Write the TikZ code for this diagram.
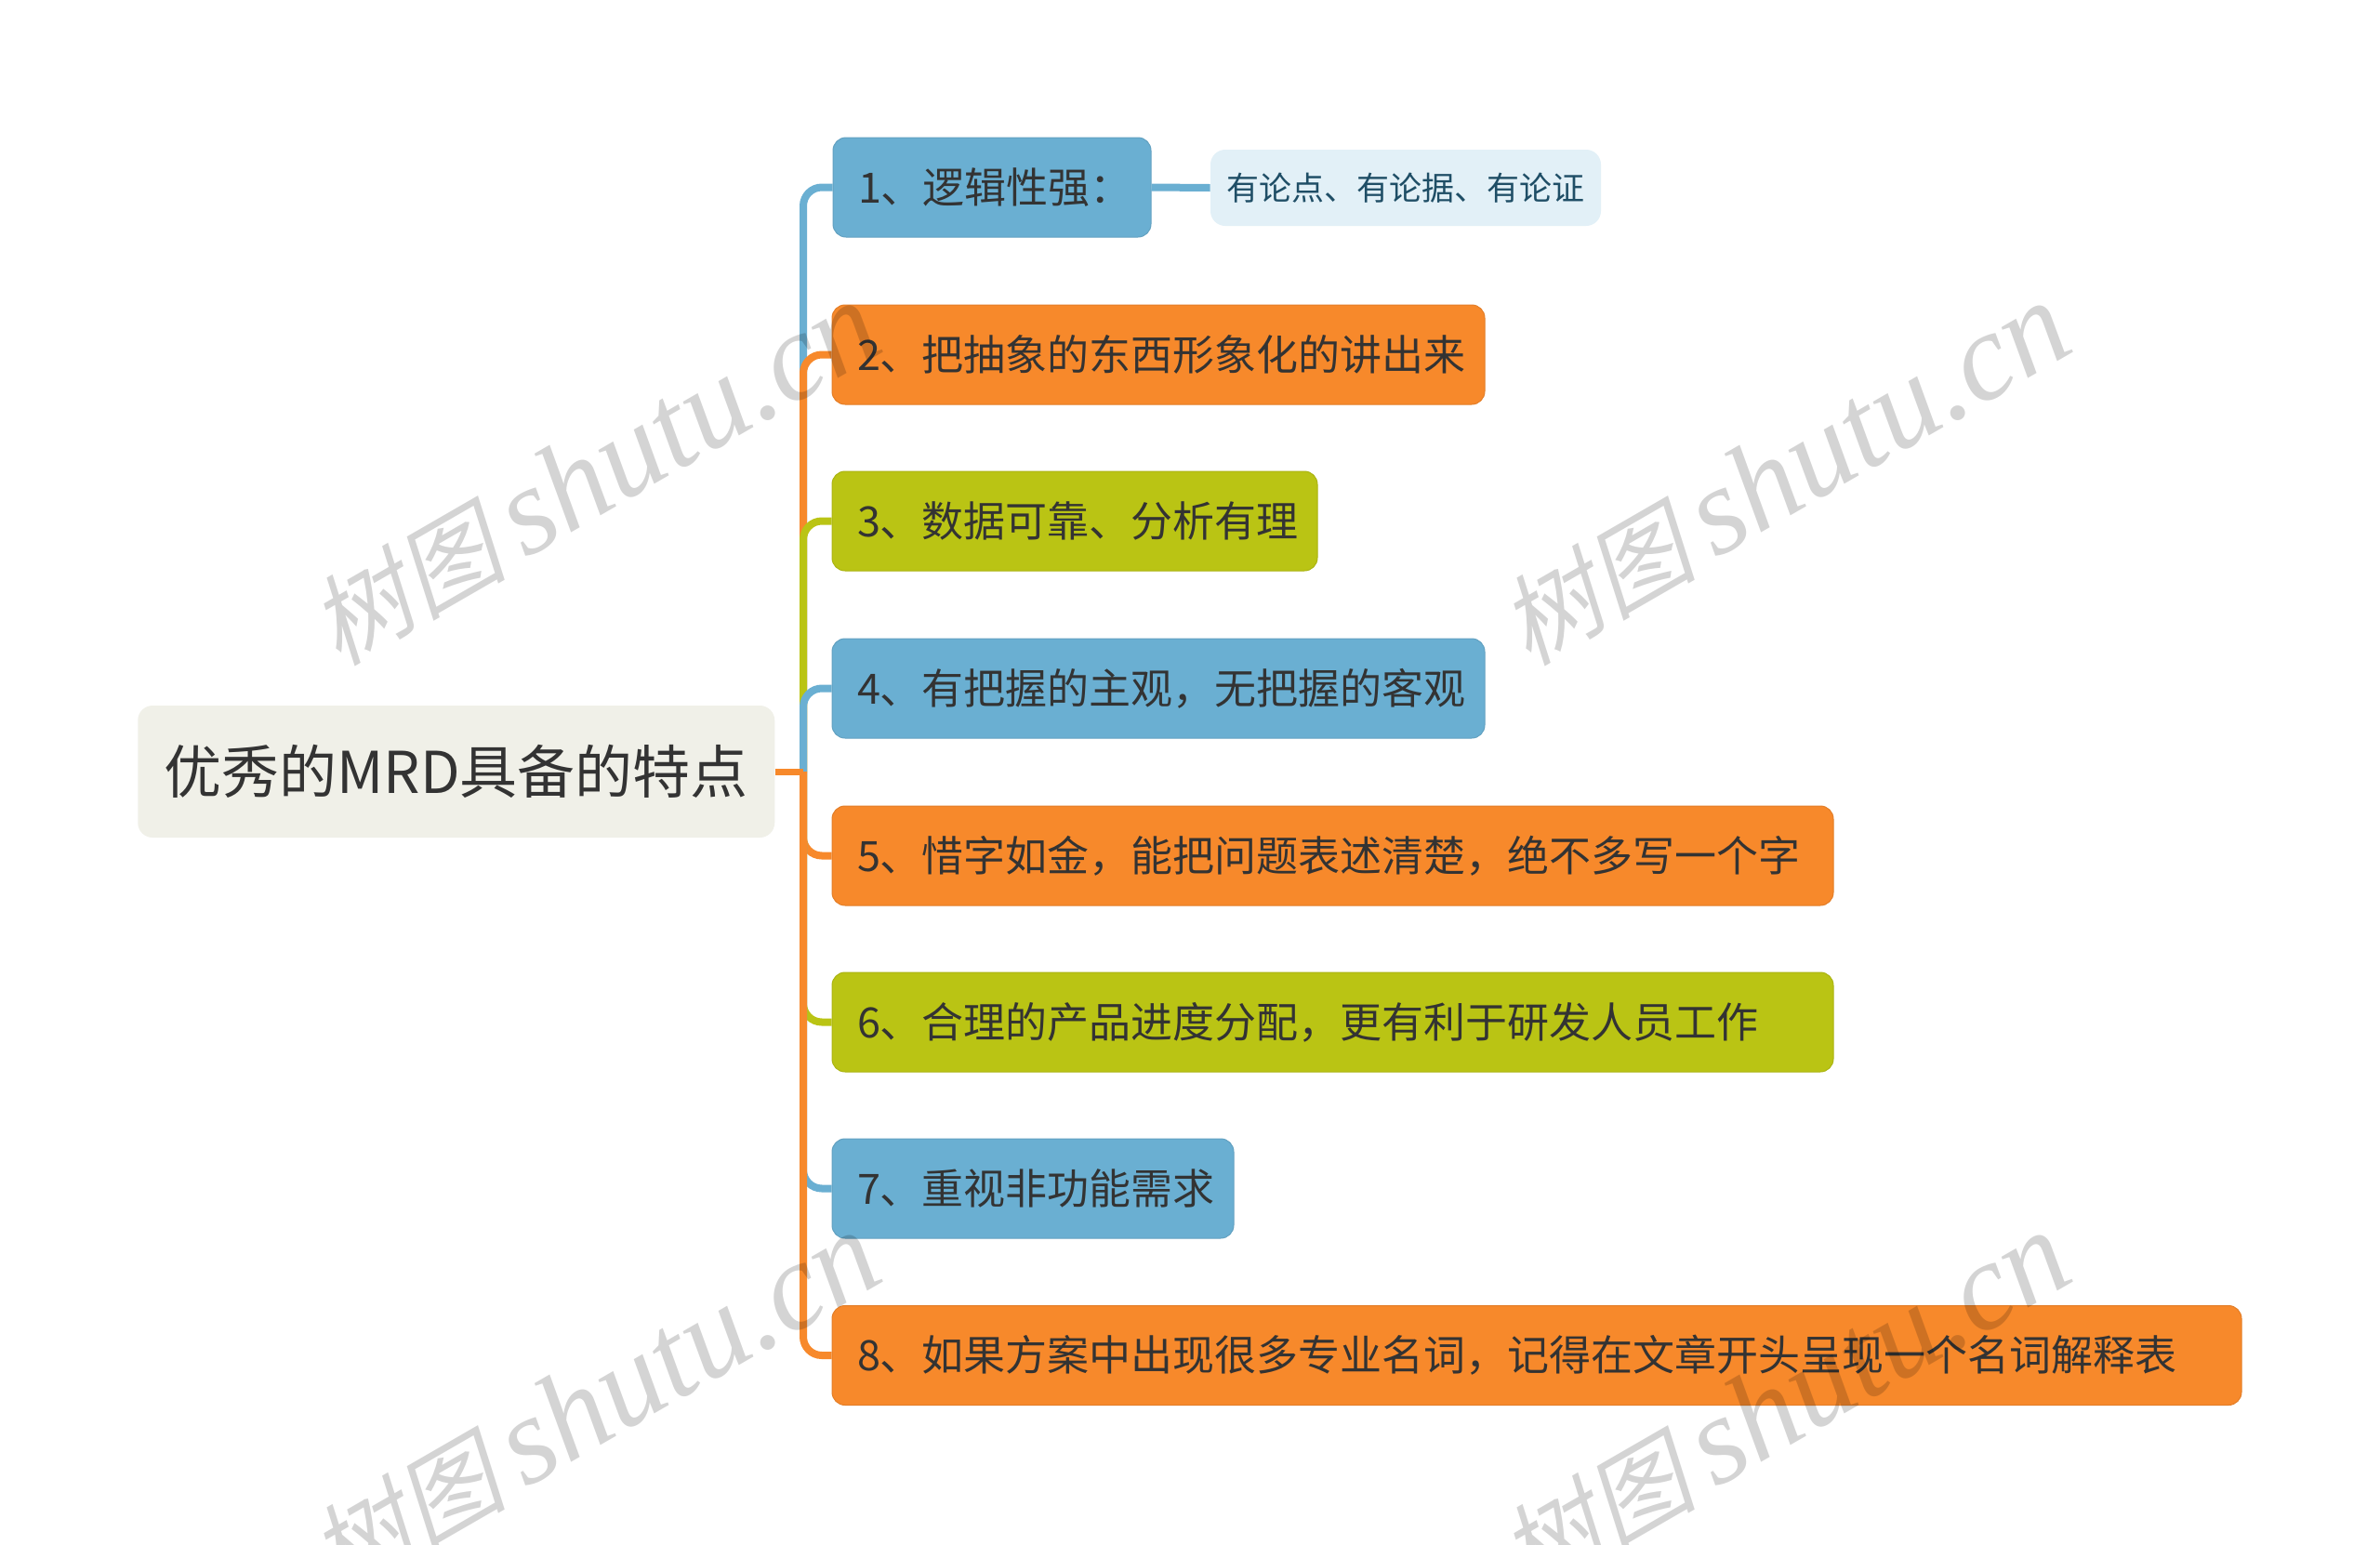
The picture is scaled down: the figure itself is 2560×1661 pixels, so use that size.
\documentclass[tikz,border=0pt]{standalone}
\usepackage{fontspec}
\setmainfont{Noto Sans CJK SC}
\newfontfamily\wmcjk[FakeSlant=0.22]{Noto Sans CJK SC}
\newfontfamily\wmlat{Liberation Serif Italic}
\definecolor{cblue}{HTML}{6AAFD2}
\definecolor{corange}{HTML}{F7892B}
\definecolor{cgreen}{HTML}{BAC414}
\definecolor{croot}{HTML}{F0F0E8}
\definecolor{cchild}{HTML}{E2F0F7}
\definecolor{ctext}{HTML}{333333}
\definecolor{cchildtext}{HTML}{1F4E66}
\tikzset{
  x=0.5pt,y=-0.5pt,
  rootbox/.style={fill=croot,rounded corners=8pt,minimum width=342.5pt,minimum height=71pt,inner sep=0pt,text=ctext,font=\fontsize{31}{35}\selectfont},
  topic/.style n args={2}{fill=#1,draw=#1!92!black,line width=0.5pt,rounded corners=7pt,minimum height=53.5pt,inner xsep=0pt,inner ysep=0pt,text width=#2,align=left,text=ctext,font=\fontsize{22.5}{26}\selectfont},
  childbox/.style={fill=cchild,rounded corners=8pt,minimum height=41pt,minimum width=210pt,inner sep=0pt,text=cchildtext,font=\fontsize{17.5}{21}\selectfont},
  conn/.style={line width=4pt,rounded corners=10pt},
  wm/.style={rotate=30,opacity=0.17,text=black,inner sep=0pt}
}
\newcommand{\tpc}[6]{\node[topic={#4}{#3pt-27pt},anchor=center,minimum width=#3pt] (#1) at (#2) {#5};}
\newcommand{\wmark}[2]{\node[wm] (#1) at (#2) {{\wmcjk\fontsize{53}{57}\selectfont 树图}\hspace{10pt}{\wmlat\fontsize{67}{71}\selectfont shutu.cn}};}
\begin{document}
\begin{tikzpicture}
\path[use as bounding box] (0,0) rectangle (2560,1661);
\clip (0,0) rectangle (2560,1661);
\fill[white] (0,0) rectangle (2560,1661);
\coordinate (hub) at (864,830);
\node[rootbox] (root) at (490.75,830) {优秀的MRD具备的特点};
\tpc{n1}{1067,201.5}{171}{cblue}{1、逻辑性强：}{}
\tpc{n2}{1246,381.5}{351}{corange}{2、把抽象的东西形象化的讲出来}{}
\tpc{n3}{1156,560.5}{261}{cgreen}{3、数据可靠、分析有理}{}
\tpc{n4}{1246,740.5}{351}{cblue}{4、有把握的主观，无把握的客观}{}
\tpc{n5}{1433.5,920.5}{538.5}{corange}{5、惜字如金，能把问题表述清楚，绝不多写一个字}{}
\tpc{n6}{1433.5,1099.5}{538.5}{cgreen}{6、合理的产品进度分配，更有利于研发人员工作}{}
\tpc{n7}{1111,1278.5}{216}{cblue}{7、重视非功能需求}{}
\tpc{n8}{1653,1458}{758}{corange}{8、如果方案中出现很多专业名词，记得在文章开头呈现一个名词解释表}{}
\node[childbox] (c1) at (1512,202) {有论点、有论据、有论证};
\draw[conn,cblue] (hub) |- (n1.west);
\draw[conn,corange] (hub) |- (n2.west);
\draw[conn,cgreen] (hub) |- (n3.west);
\draw[conn,cblue] (hub) |- (n4.west);
\draw[conn,corange] (hub) |- (n5.west);
\draw[conn,cgreen] (hub) |- (n6.west);
\draw[conn,cblue] (hub) |- (n7.west);
\draw[conn,corange] (hub) |- (n8.west);
\draw[line width=3.5pt,corange] (root.east) -- (hub);
\draw[line width=4pt,cblue] (n1.east) -- (c1.west);
\wmark{w1}{639,510}
\wmark{w2}{1919,510}
\wmark{w3}{639,1510}
\wmark{w4}{1919,1510}
\end{tikzpicture}
\end{document}
